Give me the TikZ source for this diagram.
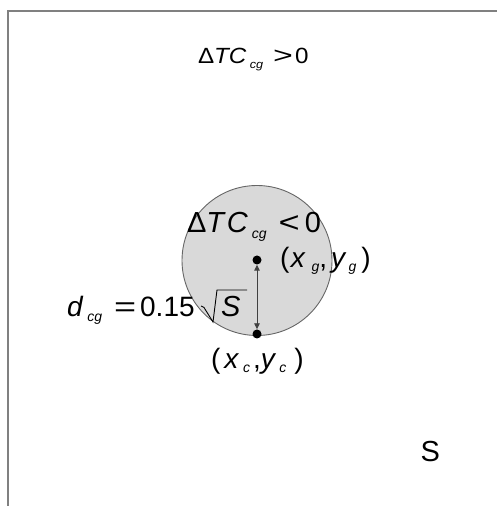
\documentclass[tikz,border=0pt]{standalone}
\usepackage{fontspec}
\usepackage{graphicx}
\setmainfont{Liberation Sans}
\usetikzlibrary{arrows.meta}
% subscript: #1 text, #2 size in pt, #3 lowering
\newcommand{\lowsub}[3]{\raisebox{-#3}{\fontsize{#2}{#2}\selectfont\itshape #1}}
\begin{document}
\begin{tikzpicture}[x=1pt,y=1pt,
  lbl/.style={anchor=base west,inner sep=0pt,outer sep=0pt},
  pt/.style={circle,fill=black,inner sep=0pt,minimum size=9pt},
  frame/.style={draw=black!50,line width=2pt},
]
\useasboundingbox (0,0) rectangle (497,506);
\draw[frame] (8,0) -- (8,495) -- (497,495);
\fill[fill=black!15,draw=black!60,line width=0.9pt] (257,245.5) circle (75);
\node[pt] (g) at (257,246) {};
\node[pt] (c) at (257,172) {};
\draw[black!75,line width=0.9pt,{Triangle[width=5.5pt,length=6pt]}-{Triangle[width=5.5pt,length=6pt]}] (g) -- (c);
% top label
\node[lbl,font=\fontsize{22}{24}\selectfont] (top) at (198,442)
  {\scalebox{1.1}[1]{Δ\textit{TC}\hspace{3pt}\lowsub{cg}{11.5}{5pt}\hspace{9pt}\scalebox{1.4}[1.05]{>}\hspace{2pt}0}};
% inside label
\node[lbl,font=\fontsize{29}{32}\selectfont] (mid) at (187,273)
  {Δ\textit{T}\hspace{1pt}\textit{C}\hspace{4pt}\lowsub{cg}{14}{6pt}\hspace{12pt}\scalebox{1.25}[1]{<}\hspace{5pt}0};
\node[lbl,font=\fontsize{28}{32}\selectfont] (xg) at (280,238)
  {(\hspace{1.5pt}\textit{x}\hspace{6pt}\lowsub{g}{14}{4pt},\hspace{4pt}\textit{y}\hspace{2pt}\lowsub{g}{14}{4pt}\hspace{5pt})};
\node[lbl,font=\fontsize{28}{32}\selectfont] (xc) at (211,137)
  {(\hspace{4pt}\textit{x}\hspace{4pt}\lowsub{c}{14}{4pt}\hspace{3pt},\textit{y}\hspace{3pt}\lowsub{c}{14}{4pt}\hspace{8pt})};
\node[lbl,font=\fontsize{28}{32}\selectfont] (d) at (67,189)
  {\textit{d}\hspace{4pt}\lowsub{cg}{14}{5pt}\hspace{12pt}\scalebox{1.35}[1]{=}\hspace{4pt}0.15};
\draw[black,line width=0.9pt] (201,200) -- (204,198.5) -- (213,184) -- (217,216) -- (247,216);
\node[lbl,font=\fontsize{29}{32}\selectfont] (s) at (221,189) {\textit{S}};
\node[lbl,font=\fontsize{29}{32}\selectfont] (S) at (420.5,44) {S};
\end{tikzpicture}
\end{document}
